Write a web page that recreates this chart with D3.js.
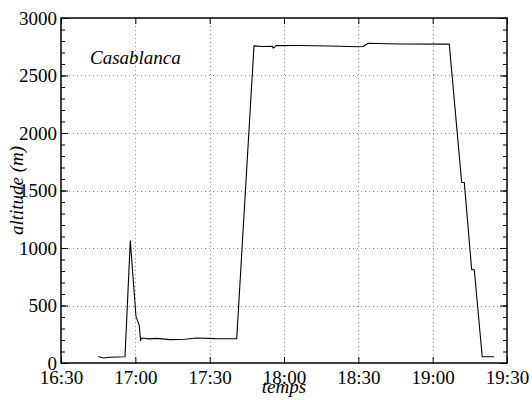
<!DOCTYPE html>
<html>
<head>
<meta charset="utf-8">
<script src="https://cdn.jsdelivr.net/npm/d3@7"></script>
<style>
  html, body { margin: 0; padding: 0; background: #fff; }
  svg { display: block; }
  svg text { font-family: "Liberation Serif", "Times New Roman", serif !important; fill: #000; }
</style>
</head>
<body>
<svg id="chart" width="532" height="400"></svg>
<script>
// ---- data ----
const times = [
  "16:45:03","16:47:04","16:49:47","16:55:50","16:57:58","17:00:16","17:01:36","17:02:05",
  "17:02:34","17:05:30","17:08:37","17:14:00","17:20:02","17:24:46","17:32:09","17:40:55",
  "17:47:53","17:51:30","17:55:10","17:55:41","17:56:46","18:06:28","18:18:34","18:30:00",
  "18:31:54","18:34:01","18:46:50","19:06:42","19:11:43","19:12:46","19:15:45","19:16:48",
  "19:20:00","19:24:45"
];
const altitudes = [
  57, 43, 50, 55, 1063, 405, 325, 196,
  217, 210, 214, 203, 206, 217, 212, 211,
  2758, 2752, 2755, 2738, 2760, 2761, 2757, 2750,
  2752, 2780, 2774, 2773, 1570, 1570, 811, 811,
  55, 55
];
const xTickLabels = ["16:30","17:00","17:30","18:00","18:30","19:00","19:30"];
const yTicks = [0, 500, 1000, 1500, 2000, 2500, 3000];
const yMinorTicks = d3.range(0, 3001, 100);
const title = "Casablanca";
const xLabel = "temps";
const yLabel = "altitude (m)";

// ---- layout ----
const W = 532, H = 400;
const m = { left: 61, right: 25, top: 18, bottom: 37 };
const pw = W - m.left - m.right, ph = H - m.top - m.bottom;
const FONT = "Liberation Serif";

const parse = d3.timeParse("%H:%M:%S");
const parseHM = d3.timeParse("%H:%M");
const data = times.map((t, i) => ({ t: parse(t), a: altitudes[i] }));
const xTickDates = xTickLabels.map(parseHM);

const x = d3.scaleTime().domain([xTickDates[0], xTickDates[xTickDates.length - 1]]).range([0, pw]);
const y = d3.scaleLinear().domain([0, 3000]).range([ph, 0]);

const svg = d3.select("#chart");
svg.append("rect").attr("width", W).attr("height", H).attr("fill", "#fff");
const g = svg.append("g").attr("transform", `translate(${m.left},${m.top})`);

// grid
const grid = g.append("g").attr("stroke", "#8a8a8a").attr("stroke-width", 1).attr("stroke-dasharray", "1,3");
grid.selectAll(".gx").data(xTickDates.slice(1, -1)).join("line")
  .attr("x1", d => Math.round(x(d)) + 0.5).attr("x2", d => Math.round(x(d)) + 0.5)
  .attr("y1", 0).attr("y2", ph);
grid.selectAll(".gy").data(yTicks.slice(1, -1)).join("line")
  .attr("y1", d => Math.round(y(d)) + 0.5).attr("y2", d => Math.round(y(d)) + 0.5)
  .attr("x1", 0).attr("x2", pw);

// axes (ticks inward)
const fmt = d3.timeFormat("%H:%M");
const xAxisB = d3.axisBottom(x).tickValues(xTickDates).tickSize(-6).tickPadding(8).tickFormat(fmt);
const xAxisT = d3.axisTop(x).tickValues(xTickDates).tickSize(-6).tickFormat("");
const yAxisL = d3.axisLeft(y).tickValues(yTicks).tickSize(-7).tickPadding(4).tickFormat(d3.format("d"));
const yAxisR = d3.axisRight(y).tickValues(yTicks).tickSize(-7).tickFormat("");
const yMinL = d3.axisLeft(y).tickValues(yMinorTicks).tickSize(-4).tickFormat("");
const yMinR = d3.axisRight(y).tickValues(yMinorTicks).tickSize(-4).tickFormat("");

function style(sel) {
  sel.attr("font-family", FONT).attr("font-size", 19);
  sel.selectAll(".domain").remove();
  sel.selectAll("line").attr("stroke", "#000").attr("stroke-width", 1);
  sel.selectAll("text").style("font-size", "19px").style("font-family", FONT).attr("fill", "#000");
}
g.append("g").attr("transform", `translate(0,${ph})`).call(xAxisB).call(style)
  .selectAll("text").attr("dy", "0.71em");
g.append("g").call(xAxisT).call(style);
g.append("g").call(yAxisL).call(style);
g.append("g").attr("transform", `translate(${pw},0)`).call(yAxisR).call(style);
g.append("g").call(yMinL).call(style);
g.append("g").attr("transform", `translate(${pw},0)`).call(yMinR).call(style);

// line
const line = d3.line().x(d => x(d.t)).y(d => y(d.a));
g.append("path").datum(data).attr("d", line)
  .attr("fill", "none").attr("stroke", "#000").attr("stroke-width", 1.1).attr("stroke-linejoin", "round");

// frame
g.append("rect").attr("x", 0).attr("y", 0).attr("width", pw).attr("height", ph)
  .attr("fill", "none").attr("stroke", "#000").attr("stroke-width", 1.5);

// texts
g.append("text").attr("x", 29).attr("y", 46).style("font-size", "19px").style("font-style", "italic").style("font-family", FONT).text(title);
svg.append("text").attr("x", m.left + pw / 2).attr("y", 393).attr("text-anchor", "middle")
  .style("font-size", "19px").style("font-style", "italic").style("font-family", FONT).text(xLabel);
svg.append("text").attr("transform", `translate(23,${m.top + ph / 2}) rotate(-90)`).attr("text-anchor", "middle")
  .style("font-size", "19px").style("font-style", "italic").style("font-family", FONT).text(yLabel);
</script>
</body>
</html>
